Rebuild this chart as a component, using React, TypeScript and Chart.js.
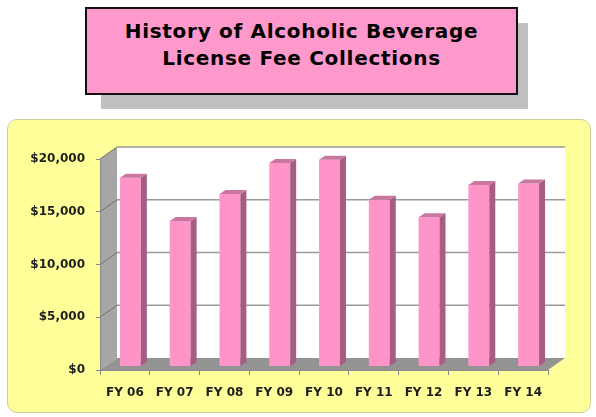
import React, { useEffect, useRef } from "react";
import { Chart, registerables } from "chart.js";

Chart.register(...registerables);

const categories = ["FY 06", "FY 07", "FY 08", "FY 09", "FY 10", "FY 11", "FY 12", "FY 13", "FY 14"];
const collections = [17900, 13800, 16350, 19300, 19600, 15800, 14150, 17200, 17350];
const yTicks = [0, 5000, 10000, 15000, 20000];
const titleLines = ["History of Alcoholic Beverage", "License Fee Collections"];

const WALL_DX = 17;
const WALL_DY = -12;
const BAR_DX = 5.5;
const BAR_DY = -3.5;
const DEPTH_DX = 6;
const DEPTH_DY = -4;

const wallsPlugin = {
  id: "walls3d",
  beforeDraw(chart: any) {
    const { ctx, chartArea } = chart;
    const { left: L, right: R, top: T, bottom: B } = chartArea;
    ctx.save();
    ctx.fillStyle = "#ffffff";
    ctx.fillRect(L + WALL_DX, T + WALL_DY, R - L, B - T);
    ctx.fillStyle = "#a6a6a6";
    ctx.beginPath();
    ctx.moveTo(L, T);
    ctx.lineTo(L + WALL_DX, T + WALL_DY);
    ctx.lineTo(L + WALL_DX, B + WALL_DY);
    ctx.lineTo(L, B);
    ctx.closePath();
    ctx.fill();
    ctx.fillStyle = "#939393";
    ctx.beginPath();
    ctx.moveTo(L, B);
    ctx.lineTo(L + WALL_DX, B + WALL_DY);
    ctx.lineTo(R + WALL_DX, B + WALL_DY);
    ctx.lineTo(R, B);
    ctx.closePath();
    ctx.fill();
    const ys = chart.scales.y;
    yTicks.forEach((v) => {
      if (v === 0) return;
      const y = ys.getPixelForValue(v);
      ctx.strokeStyle = "#9a9a9a";
      ctx.lineWidth = 1.5;
      ctx.beginPath();
      ctx.moveTo(L + WALL_DX, y + WALL_DY);
      ctx.lineTo(R + WALL_DX, y + WALL_DY);
      ctx.stroke();
      ctx.strokeStyle = "#6e6e6e";
      ctx.lineWidth = 1;
      ctx.beginPath();
      ctx.moveTo(L, y);
      ctx.lineTo(L + WALL_DX, y + WALL_DY);
      ctx.stroke();
    });
    ctx.restore();
  },
  beforeDatasetsDraw(chart: any) {
    chart.ctx.save();
    chart.ctx.translate(BAR_DX, BAR_DY);
  },
  afterDatasetsDraw(chart: any) {
    const ctx = chart.ctx;
    const meta = chart.getDatasetMeta(0);
    meta.data.forEach((bar: any) => {
      const { x, y, base, width } = bar.getProps(["x", "y", "base", "width"], true);
      const l = x - width / 2;
      const r = x + width / 2;
      ctx.fillStyle = "#a65c83";
      ctx.beginPath();
      ctx.moveTo(r, y);
      ctx.lineTo(r + DEPTH_DX, y + DEPTH_DY);
      ctx.lineTo(r + DEPTH_DX, base + DEPTH_DY);
      ctx.lineTo(r, base);
      ctx.closePath();
      ctx.fill();
      ctx.fillStyle = "#c9779f";
      ctx.beginPath();
      ctx.moveTo(l, y);
      ctx.lineTo(l + DEPTH_DX, y + DEPTH_DY);
      ctx.lineTo(r + DEPTH_DX, y + DEPTH_DY);
      ctx.lineTo(r, y);
      ctx.closePath();
      ctx.fill();
    });
    ctx.restore();
  },
};

const labelFont = { family: "Verdana, 'DejaVu Sans', sans-serif", size: 12, weight: "bold" as const };

export default function App() {
  const ref = useRef<HTMLCanvasElement>(null);
  useEffect(() => {
    document.body.style.margin = "0";
    const chart = new Chart(ref.current!, {
      type: "bar",
      data: {
        labels: categories,
        datasets: [
          {
            data: collections,
            backgroundColor: "#ff94c8",
            borderWidth: 0,
            categoryPercentage: 1,
            barPercentage: 0.42,
            clip: false,
          } as any,
        ],
      },
      options: {
        animation: false,
        responsive: false,
        maintainAspectRatio: false,
        layout: { padding: { top: 159, right: 48, left: 0, bottom: 0 } },
        plugins: { legend: { display: false }, tooltip: { enabled: false } },
        scales: {
          x: {
            grid: { offset: true, drawOnChartArea: false, tickLength: 5, color: "#8a8a8a" },
            border: { color: "#8a8a8a" },
            ticks: { font: labelFont, color: "#1e1e1e", padding: 11, maxRotation: 0 },
            afterFit: (s: any) => {
              s.height = 47;
            },
          },
          y: {
            min: 0,
            max: 20000,
            afterBuildTicks: (s: any) => {
              s.ticks = yTicks.map((v) => ({ value: v }));
            },
            grid: { drawOnChartArea: false, tickLength: 4, color: "#8a8a8a" },
            border: { color: "#8a8a8a" },
            ticks: {
              font: labelFont,
              color: "#1e1e1e",
              padding: 11,
              callback: (v: any) => "$" + Number(v).toLocaleString("en-US"),
            },
            afterFit: (s: any) => {
              s.width = 100;
            },
          },
        },
      },
      plugins: [wallsPlugin],
    });
    return () => chart.destroy();
  }, []);

  return (
    <div style={{ position: "fixed", left: 0, top: 0, width: 596, height: 417, background: "#ffffff" }}>
      <div style={{ position: "absolute", left: 101, top: 23, width: 427, height: 86, background: "#c0c0c0" }} />
      <div
        style={{
          position: "absolute",
          left: 85,
          top: 7,
          width: 433,
          height: 88,
          boxSizing: "border-box",
          border: "2px solid #111",
          background: "#ff99cc",
          paddingTop: 9,
          textAlign: "center",
          fontFamily: "Verdana, 'DejaVu Sans', sans-serif",
          fontWeight: "bold",
          fontSize: 20,
          letterSpacing: "0.7px",
          lineHeight: "27px",
          color: "#000",
        }}
      >
        {titleLines.map((t) => (
          <div key={t}>{t}</div>
        ))}
      </div>
      <div
        style={{
          position: "absolute",
          left: 7,
          top: 119,
          width: 584,
          height: 294,
          boxSizing: "border-box",
          background: "#ffff99",
          border: "1px solid #cfcf9a",
          borderRadius: 10,
        }}
      />
      <canvas ref={ref} width={596} height={417} style={{ position: "absolute", left: 0, top: 0, width: 596, height: 417 }} />
    </div>
  );
}
